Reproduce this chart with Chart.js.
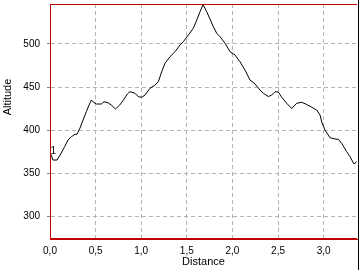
<!DOCTYPE html>
<html>
<head>
<meta charset="utf-8">
<script src="https://cdn.jsdelivr.net/npm/chart.js@4.4.1/dist/chart.umd.min.js"></script>
<style>
  html, body { margin: 0; padding: 0; background: #fff; }
  #wrap { width: 358px; height: 270px; border-right: 1px solid #000; }
  canvas { display: block; }
</style>
</head>
<body>
<div id="wrap"><canvas id="chart" width="358" height="270"></canvas></div>
<script>
// distance (km) and altitude (m)
const distances = [0.01,0.033,0.077,0.110,0.161,0.197,0.234,0.274,0.296,0.329,0.362,0.398,0.428,0.455,0.471,0.508,0.563,0.592,0.636,0.672,
  0.718,0.764,0.800,0.848,0.877,0.932,0.968,1.005,1.042,1.096,1.151,1.188,1.225,1.261,1.316,1.371,1.425,1.462,1.516,1.571,
  1.609,1.645,1.678,1.718,1.754,1.787,1.828,1.864,1.919,1.974,2.029,2.083,2.138,2.193,2.248,2.303,2.339,2.394,2.431,2.467,
  2.503,2.541,2.595,2.650,2.705,2.760,2.815,2.870,2.924,2.961,2.979,3.015,3.070,3.125,3.161,3.198,3.253,3.289,3.333,3.363];
const altitudes = [372,365.4,365.4,371.2,380.9,388.6,392.4,395.2,395.2,402.5,411.8,421.4,429.2,435.0,433.0,430.4,430.4,433.0,431.9,429.2,
  424.6,429.2,434.2,442.0,444.7,442.8,438.9,438.2,440.8,448.6,452.4,456.3,467.9,477.6,485.3,491.1,498.8,502.7,510.4,518.2,
  527.8,537.5,545.8,537.5,529.0,520.9,512.4,508.5,500.8,491.1,487.2,479.4,469.8,458.2,453.6,446.6,442.8,439.1,440.8,444.7,
  444.3,438.2,431.2,425.2,431.2,432.4,429.8,426.7,423.4,417.6,409.5,400.2,391.3,389.8,389.4,384.8,375.1,369.3,360.8,363.5];
const xTicks = [0, 0.5, 1.0, 1.5, 2.0, 2.5, 3.0];
const yTicks = [300, 350, 400, 450, 500];
const pointLabel = '1';

const RED = '#c00000';
const GRID = '#b4b4b4';
const FONT = 'Liberation Sans, Arial, sans-serif';

const extras = {
  id: 'extras',
  afterDraw(chart){
    const {ctx, chartArea: a} = chart;
    ctx.save();
    // frame: top, left, bottom in red
    ctx.strokeStyle = RED;
    ctx.lineWidth = 1;
    ctx.beginPath();
    ctx.moveTo(a.left + 0.5, a.top + 0.5);
    ctx.lineTo(a.right, a.top + 0.5);
    ctx.moveTo(a.left + 0.5, a.top);
    ctx.lineTo(a.left + 0.5, a.bottom);
    ctx.moveTo(a.left, a.bottom - 0.5);
    ctx.lineTo(a.right, a.bottom - 0.5);
    ctx.stroke();
    // y title, placed where the original has it
    ctx.fillStyle = '#000';
    ctx.font = '11px ' + FONT;
    ctx.textAlign = 'center';
    ctx.textBaseline = 'middle';
    ctx.translate(8, 97);
    ctx.rotate(-Math.PI / 2);
    ctx.fillText('Altitude', 0, 0);
    ctx.restore();
    // label of the first point
    const p = chart.getDatasetMeta(0).data[0];
    ctx.save();
    ctx.fillStyle = '#000';
    ctx.font = '10px ' + FONT;
    ctx.textAlign = 'left';
    ctx.textBaseline = 'middle';
    ctx.fillText(pointLabel, p.x - 0.5, p.y - 3);
    ctx.restore();
  }
};

new Chart(document.getElementById('chart'), {
  type: 'line',
  data: {
    datasets: [{
      data: distances.map((d, i) => ({x: d, y: altitudes[i]})),
      borderColor: '#000',
      borderWidth: 1,
      pointRadius: 0,
      tension: 0,
      fill: false
    }]
  },
  options: {
    responsive: false,
    animation: false,
    layout: {padding: {top: 4, right: 1, left: 0, bottom: 0}},
    plugins: {legend: {display: false}, tooltip: {enabled: false}},
    scales: {
      x: {
        type: 'linear',
        min: 0,
        max: 3.366,
        afterBuildTicks: s => { s.ticks = xTicks.map(v => ({value: v})); },
        afterFit: s => { s.height = 31; s.paddingLeft = 0; s.paddingRight = 0; },
        grid: {color: GRID, tickColor: 'transparent', tickLength: 3},
        border: {color: RED, width: 1, dash: [4, 3]},
        ticks: {
          color: '#000',
          font: {family: FONT, size: 10},
          padding: 3,
          maxRotation: 0,
          autoSkip: false,
          callback: v => v.toFixed(1).replace('.', ',')
        },
        title: {display: true, text: 'Distance', color: '#000', font: {family: FONT, size: 11}, padding: {top: 0, bottom: 1}}
      },
      y: {
        min: 273.8,
        max: 546.4,
        afterBuildTicks: s => { s.ticks = yTicks.map(v => ({value: v})); },
        afterFit: s => { s.width = 50; s.paddingTop = 0; s.paddingBottom = 0; },
        grid: {color: GRID, tickColor: '#808080', tickLength: 3, tickBorderDash: []},
        border: {color: RED, width: 1, dash: [4, 3]},
        ticks: {
          color: '#000',
          font: {family: FONT, size: 10},
          padding: 7,
          autoSkip: false,
          callback: v => String(v)
        }
      }
    }
  },
  plugins: [extras]
});
</script>
</body>
</html>
